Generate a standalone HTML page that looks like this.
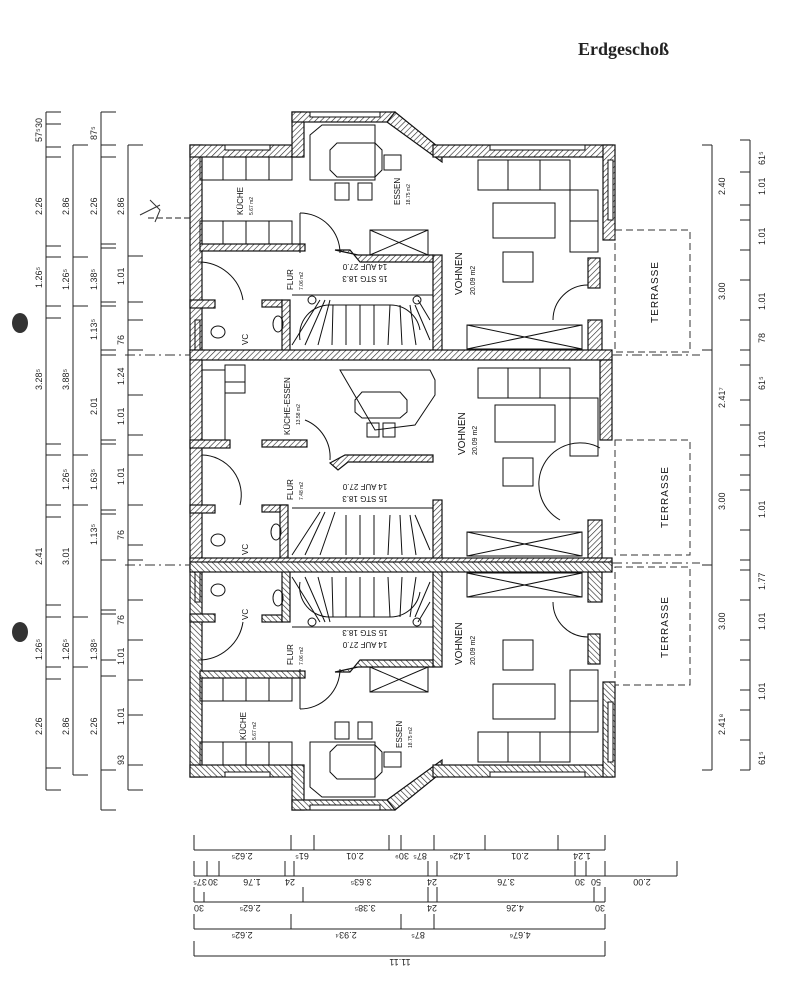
<!DOCTYPE html>
<html><head><meta charset="utf-8"><style>
html,body{margin:0;padding:0;background:#fff;}
svg{display:block;font-family:"Liberation Sans",sans-serif;}
</style></head><body>
<svg width="785" height="1000" viewBox="0 0 785 1000" xmlns="http://www.w3.org/2000/svg">
<defs>
<pattern id="h" width="4" height="4" patternUnits="userSpaceOnUse" patternTransform="rotate(45)">
<rect width="4" height="4" fill="#fff"/><line x1="0" y1="0" x2="0" y2="4" stroke="#222" stroke-width="1.2"/>
</pattern>
<g id="unit">
 <g fill="url(#h)" stroke="#111" stroke-width="1.2">
  <rect x="190" y="145" width="12" height="210"/>
  <rect x="190" y="145" width="110" height="12"/>
  <rect x="292" y="112" width="12" height="45"/>
  <rect x="292" y="112" width="103" height="10"/>
  <polygon points="395,112 442,150 442,162 387,122"/>
  <rect x="433" y="145" width="180" height="12"/>
  <rect x="603" y="145" width="12" height="95"/>
  <rect x="588" y="258" width="12" height="30"/>
  <rect x="588" y="320" width="14" height="35"/>
  <rect x="200" y="244" width="105" height="7"/>
  <rect x="190" y="300" width="25" height="8"/>
  <rect x="262" y="300" width="20" height="7"/>
  <rect x="282" y="300" width="8" height="55"/>
  <rect x="433" y="255" width="9" height="100"/>
  <polygon points="335,250 350,250 360,262 433,262 433,255 358,255"/>
  <rect x="190" y="350" width="422" height="10"/>
 </g>
 <g fill="#fff" stroke="#111" stroke-width="1">
  <rect x="225" y="145" width="45" height="5"/>
  <rect x="310" y="112" width="70" height="5"/>
  <rect x="490" y="145" width="95" height="5"/>
  <rect x="608" y="160" width="5" height="60"/>
 </g>
 <g fill="none" stroke="#111" stroke-width="1">
  <rect x="200" y="157" width="92" height="23"/>
  <line x1="223" y1="157" x2="223" y2="180"/><line x1="246" y1="157" x2="246" y2="180"/><line x1="269" y1="157" x2="269" y2="180"/>
  <rect x="200" y="221" width="92" height="23"/>
  <line x1="223" y1="221" x2="223" y2="244"/><line x1="246" y1="221" x2="246" y2="244"/><line x1="269" y1="221" x2="269" y2="244"/>
  <polygon points="310,135 322,125 375,125 375,180 320,180 310,180"/>
  <polygon points="330,150 337,143 375,143 382,150 382,170 375,177 337,177 330,170"/>
  <rect x="384" y="155" width="17" height="15"/>
  <rect x="335" y="183" width="14" height="17"/><rect x="358" y="183" width="14" height="17"/>
  <rect x="370" y="230" width="58" height="25"/><line x1="370" y1="230" x2="428" y2="255"/><line x1="370" y1="255" x2="428" y2="230"/>
  <rect x="478" y="160" width="92" height="30"/>
  <line x1="508" y1="160" x2="508" y2="190"/><line x1="540" y1="160" x2="540" y2="190"/>
  <rect x="570" y="190" width="28" height="62"/><line x1="570" y1="221" x2="598" y2="221"/>
  <rect x="493" y="203" width="62" height="35"/>
  <rect x="503" y="252" width="30" height="30"/>
  <rect x="467" y="325" width="115" height="24"/><line x1="467" y1="325" x2="582" y2="349"/><line x1="467" y1="349" x2="582" y2="325"/>
  <path d="M300,213 A40,40 0 0 1 340,253"/><line x1="300" y1="213" x2="300" y2="253"/>
  <path d="M198,262 A45,45 0 0 1 243,300"/>
  <path d="M588,285 A35,35 0 0 0 553,320"/>
  <line x1="292" y1="295" x2="433" y2="295"/>
  <path d="M292,345 L320,300 M305,345 L325,300 M318,345 L330,300 M332,345 L333,305 M346,345 L346,305 M360,345 L360,305 M374,345 L374,305 M388,345 L390,305 M402,345 L400,305 M416,345 L410,305 M430,340 L415,305 M430,320 L418,300"/>
  <path d="M300,340 A30,30 0 0 1 330,305 L390,305 A30,30 0 0 1 420,330"/>
  <circle cx="312" cy="300" r="4"/><circle cx="417" cy="300" r="4"/>
  <ellipse cx="218" cy="332" rx="7" ry="6"/><rect x="195" y="320" width="5" height="30"/>
  <ellipse cx="278" cy="324" rx="5" ry="8"/>
 </g>
</g>
<g id="mid">
 <g fill="url(#h)" stroke="#111" stroke-width="1.2">
  <rect x="190" y="360" width="12" height="200"/>
  <rect x="190" y="440" width="40" height="8"/>
  <rect x="262" y="440" width="45" height="7"/>
  <rect x="190" y="505" width="25" height="8"/>
  <rect x="262" y="505" width="25" height="7"/>
  <rect x="280" y="505" width="8" height="55"/>
  <rect x="433" y="500" width="9" height="60"/>
  <polygon points="330,463 345,455 433,455 433,462 348,462 338,470"/>
  <rect x="600" y="360" width="12" height="80"/>
  <rect x="588" y="520" width="14" height="40"/>
  <rect x="190" y="558" width="422" height="10"/>
 </g>
 <g fill="none" stroke="#111" stroke-width="1">
  <rect x="202" y="370" width="23" height="70"/>
  <rect x="225" y="365" width="20" height="28"/><line x1="225" y1="382" x2="245" y2="382"/>
  <polygon points="340,370 430,370 435,380 435,395 415,425 375,430"/>
  <polygon points="355,400 362,392 400,392 407,400 407,412 400,418 362,418 355,412"/>
  <rect x="367" y="423" width="12" height="14"/><rect x="383" y="423" width="12" height="14"/>
  <rect x="478" y="368" width="92" height="30"/>
  <line x1="508" y1="368" x2="508" y2="398"/><line x1="540" y1="368" x2="540" y2="398"/>
  <rect x="570" y="398" width="28" height="58"/>
  <rect x="495" y="405" width="60" height="37"/>
  <rect x="503" y="458" width="30" height="28"/>
  <path d="M305,420 A40,40 0 0 1 330,460"/>
  <path d="M202,455 A40,40 0 0 1 240,505"/>
  <path d="M600,448 A40,40 0 0 0 560,520"/>
  <line x1="292" y1="508" x2="433" y2="508"/>
  <path d="M292,555 L320,512 M305,555 L325,512 M320,555 L335,512 M346,555 L346,515 M360,555 L360,515 M374,555 L374,515 M388,555 L390,515 M402,555 L400,515 M416,555 L410,515 M430,550 L415,515"/>
  <rect x="467" y="532" width="115" height="24"/><line x1="467" y1="532" x2="582" y2="556"/><line x1="467" y1="556" x2="582" y2="532"/>
  <ellipse cx="218" cy="540" rx="7" ry="6"/><ellipse cx="276" cy="532" rx="5" ry="8"/>
 </g>
</g>
</defs>

<text x="578" y="55" font-family="Liberation Serif,serif" font-size="18" font-weight="bold" fill="#222">Erdgeschoß</text>

<use href="#unit"/>
<use href="#mid"/>
<use href="#unit" transform="translate(0,922) scale(1,-1)"/>

<g stroke="#333" stroke-width="1" stroke-dasharray="10,4,2,4">
 <line x1="125" y1="355" x2="190" y2="355"/><line x1="125" y1="565" x2="190" y2="565"/>
 <line x1="612" y1="355" x2="700" y2="355"/><line x1="612" y1="563" x2="700" y2="563"/>
</g>

<g fill="none" stroke="#333" stroke-width="1" stroke-dasharray="7,4">
 <rect x="615" y="230" width="75" height="122"/>
 <rect x="615" y="440" width="75" height="115"/>
 <rect x="615" y="567" width="75" height="118"/>
</g>
<g font-size="10" fill="#111" letter-spacing="1">
 <text transform="translate(658,292) rotate(-90)" text-anchor="middle">TERRASSE</text>
 <text transform="translate(668,497) rotate(-90)" text-anchor="middle">TERRASSE</text>
 <text transform="translate(668,627) rotate(-90)" text-anchor="middle">TERRASSE</text>
</g>

<g font-size="8" fill="#111">
 <text transform="translate(243,215) rotate(-90)">KÜCHE</text>
 <text transform="translate(253,215) rotate(-90)" font-size="5">5.67 m2</text>
 <text transform="translate(400,205) rotate(-90)">ESSEN</text>
 <text transform="translate(410,205) rotate(-90)" font-size="5">18.75 m2</text>
 <text transform="translate(293,290) rotate(-90)">FLUR</text>
 <text transform="translate(303,290) rotate(-90)" font-size="5">7.06 m2</text>
 <text transform="translate(248,345) rotate(-90)">VC</text>
 <text transform="translate(462,295) rotate(-90)" font-size="10">VOHNEN</text>
 <text transform="translate(475,295) rotate(-90)" font-size="7">20.09 m2</text>
 <text transform="translate(365,264) rotate(180)" text-anchor="middle">14 AUF 27.0</text>
 <text transform="translate(365,276) rotate(180)" text-anchor="middle">15 STG 18.3</text>

 <text transform="translate(290,435) rotate(-90)">KÜCHE-ESSEN</text>
 <text transform="translate(300,425) rotate(-90)" font-size="5">13.58 m2</text>
 <text transform="translate(293,500) rotate(-90)">FLUR</text>
 <text transform="translate(303,500) rotate(-90)" font-size="5">7.48 m2</text>
 <text transform="translate(248,555) rotate(-90)">VC</text>
 <text transform="translate(465,455) rotate(-90)" font-size="10">VOHNEN</text>
 <text transform="translate(477,455) rotate(-90)" font-size="7">20.09 m2</text>
 <text transform="translate(365,484) rotate(180)" text-anchor="middle">14 AUF 27.0</text>
 <text transform="translate(365,496) rotate(180)" text-anchor="middle">15 STG 18.3</text>

 <text transform="translate(248,620) rotate(-90)">VC</text>
 <text transform="translate(365,630) rotate(180)" text-anchor="middle">15 STG 18.3</text>
 <text transform="translate(365,642) rotate(180)" text-anchor="middle">14 AUF 27.0</text>
 <text transform="translate(293,665) rotate(-90)">FLUR</text>
 <text transform="translate(303,665) rotate(-90)" font-size="5">7.06 m2</text>
 <text transform="translate(462,665) rotate(-90)" font-size="10">VOHNEN</text>
 <text transform="translate(475,665) rotate(-90)" font-size="7">20.09 m2</text>
 <text transform="translate(246,740) rotate(-90)">KÜCHE</text>
 <text transform="translate(256,740) rotate(-90)" font-size="5">5.67 m2</text>
 <text transform="translate(402,748) rotate(-90)">ESSEN</text>
 <text transform="translate(412,748) rotate(-90)" font-size="5">18.75 m2</text>
</g>

<g stroke="#222" stroke-width="1">
 <line x1="46" y1="112" x2="46" y2="790"/>
 <line x1="73" y1="145" x2="73" y2="775"/>
 <line x1="101" y1="112" x2="101" y2="810"/>
 <line x1="128" y1="145" x2="128" y2="790"/>
 <line x1="148" y1="218" x2="190" y2="218" stroke-dasharray="6,3"/>
</g>
<g stroke="#222" stroke-width="1">
 <path d="M46,112h15M46,124h15M46,147h15M46,157h15M46,246h15M46,257h15M46,306h15M46,318h15M46,444h15M46,455h15M46,505h15M46,517h15M46,605h15M46,617h15M46,667h15M46,679h15M46,768h15M46,790h15"/>
 <path d="M73,145h15M73,257h15M73,306h15M73,455h15M73,505h15M73,617h15M73,667h15M73,775h15"/>
 <path d="M101,112h15M101,145h15M101,157h15M101,244h15M101,248h15M101,302h15M101,306h15M101,350h15M101,355h15M101,440h15M101,444h15M101,510h15M101,514h15M101,560h15M101,610h15M101,614h15M101,660h15M101,676h15M101,770h15M101,810h15"/>
 <path d="M128,145h15M128,256h15M128,302h15M128,320h15M128,350h15M128,395h15M128,435h15M128,455h15M128,505h15M128,545h15M128,560h15M128,600h15M128,640h15M128,680h15M128,715h15M128,765h15M128,790h15"/>
</g>
<g font-size="9" fill="#222">
 <text transform="translate(42,128) rotate(-90)">30</text>
 <text transform="translate(42,142) rotate(-90)">57⁵</text>
 <text transform="translate(42,215) rotate(-90)">2.26</text>
 <text transform="translate(42,288) rotate(-90)">1.26⁵</text>
 <text transform="translate(42,390) rotate(-90)">3.28⁵</text>
 <text transform="translate(42,565) rotate(-90)">2.41</text>
 <text transform="translate(42,660) rotate(-90)">1.26⁵</text>
 <text transform="translate(42,735) rotate(-90)">2.26</text>
 <text transform="translate(69,215) rotate(-90)">2.86</text>
 <text transform="translate(69,290) rotate(-90)">1.26⁵</text>
 <text transform="translate(69,390) rotate(-90)">3.88⁵</text>
 <text transform="translate(69,490) rotate(-90)">1.26⁵</text>
 <text transform="translate(69,565) rotate(-90)">3.01</text>
 <text transform="translate(69,660) rotate(-90)">1.26⁵</text>
 <text transform="translate(69,735) rotate(-90)">2.86</text>
 <text transform="translate(97,140) rotate(-90)">87⁵</text>
 <text transform="translate(97,215) rotate(-90)">2.26</text>
 <text transform="translate(97,290) rotate(-90)">1.38⁵</text>
 <text transform="translate(97,340) rotate(-90)">1.13⁵</text>
 <text transform="translate(97,415) rotate(-90)">2.01</text>
 <text transform="translate(97,490) rotate(-90)">1.63⁵</text>
 <text transform="translate(97,545) rotate(-90)">1.13⁵</text>
 <text transform="translate(97,660) rotate(-90)">1.38⁵</text>
 <text transform="translate(97,735) rotate(-90)">2.26</text>
 <text transform="translate(124,215) rotate(-90)">2.86</text>
 <text transform="translate(124,285) rotate(-90)">1.01</text>
 <text transform="translate(124,345) rotate(-90)">76</text>
 <text transform="translate(124,385) rotate(-90)">1.24</text>
 <text transform="translate(124,425) rotate(-90)">1.01</text>
 <text transform="translate(124,485) rotate(-90)">1.01</text>
 <text transform="translate(124,540) rotate(-90)">76</text>
 <text transform="translate(124,625) rotate(-90)">76</text>
 <text transform="translate(124,665) rotate(-90)">1.01</text>
 <text transform="translate(124,725) rotate(-90)">1.01</text>
 <text transform="translate(124,765) rotate(-90)">93</text>
</g>
<ellipse cx="20" cy="323" rx="8" ry="10" fill="#333"/>
<ellipse cx="20" cy="632" rx="8" ry="10" fill="#333"/>
<path d="M140,215 Q150,210 160,205 M150,200 L160,210 L155,222" fill="none" stroke="#333" stroke-width="1"/>

<g stroke="#222" stroke-width="1">
 <line x1="712" y1="145" x2="712" y2="770"/>
 <line x1="750" y1="140" x2="750" y2="770"/>
 <path d="M712,145h-10M712,350h-10M712,565h-10M712,770h-10M750,140h-10M750,172h-10M750,205h-10M750,220h-10M750,250h-10M750,280h-10M750,320h-10M750,350h-10M750,365h-10M750,400h-10M750,425h-10M750,455h-10M750,475h-10M750,490h-10M750,530h-10M750,560h-10M750,570h-10M750,600h-10M750,640h-10M750,660h-10M750,690h-10M750,710h-10M750,740h-10M750,770h-10"/>
</g>
<g font-size="9" fill="#222">
 <text transform="translate(725,195) rotate(-90)">2.40</text>
 <text transform="translate(725,300) rotate(-90)">3.00</text>
 <text transform="translate(725,408) rotate(-90)">2.41⁷</text>
 <text transform="translate(725,510) rotate(-90)">3.00</text>
 <text transform="translate(725,630) rotate(-90)">3.00</text>
 <text transform="translate(725,735) rotate(-90)">2.41⁸</text>
 <text transform="translate(765,165) rotate(-90)">61⁵</text>
 <text transform="translate(765,195) rotate(-90)">1.01</text>
 <text transform="translate(765,245) rotate(-90)">1.01</text>
 <text transform="translate(765,310) rotate(-90)">1.01</text>
 <text transform="translate(765,343) rotate(-90)">78</text>
 <text transform="translate(765,390) rotate(-90)">61⁵</text>
 <text transform="translate(765,448) rotate(-90)">1.01</text>
 <text transform="translate(765,518) rotate(-90)">1.01</text>
 <text transform="translate(765,590) rotate(-90)">1.77</text>
 <text transform="translate(765,630) rotate(-90)">1.01</text>
 <text transform="translate(765,700) rotate(-90)">1.01</text>
 <text transform="translate(765,765) rotate(-90)">61⁵</text>
</g>

<g stroke="#222" stroke-width="1">
 <line x1="194" y1="850" x2="605" y2="850"/>
 <line x1="194" y1="876" x2="677" y2="876"/>
 <line x1="194" y1="902" x2="605" y2="902"/>
 <line x1="194" y1="929" x2="605" y2="929"/>
 <line x1="194" y1="956" x2="605" y2="956"/>
 <path d="M194,850v-15M291,850v-15M314,850v-15M389,850v-15M401,850v-15M434,850v-15M485,850v-15M558,850v-15M605,850v-15"/>
 <path d="M194,876v-15M207,876v-15M219,876v-15M285,876v-15M294,876v-15M428,876v-15M437,876v-15M575,876v-15M586,876v-15M605,876v-15M677,876v-15"/>
 <path d="M194,902v-15M204,902v-10M303,902v-15M428,902v-15M437,902v-15M594,902v-15M605,902v-15"/>
 <path d="M194,929v-15M291,929v-15M401,929v-15M434,929v-15M605,929v-15"/>
 <path d="M194,956v-15M605,956v-15"/>
</g>
<g font-size="9" fill="#222" text-anchor="middle">
 <text transform="translate(242,853) rotate(180)">2.62⁵</text>
 <text transform="translate(302,853) rotate(180)">61⁵</text>
 <text transform="translate(355,853) rotate(180)">2.01</text>
 <text transform="translate(402,853) rotate(180)">30⁹</text>
 <text transform="translate(420,853) rotate(180)">87⁵</text>
 <text transform="translate(460,853) rotate(180)">1.42⁶</text>
 <text transform="translate(520,853) rotate(180)">2.01</text>
 <text transform="translate(582,853) rotate(180)">1.24</text>
 <text transform="translate(200,879) rotate(180)">37⁵</text>
 <text transform="translate(213,879) rotate(180)">30</text>
 <text transform="translate(252,879) rotate(180)">1.76</text>
 <text transform="translate(290,879) rotate(180)">24</text>
 <text transform="translate(361,879) rotate(180)">3.63⁵</text>
 <text transform="translate(432,879) rotate(180)">24</text>
 <text transform="translate(506,879) rotate(180)">3.76</text>
 <text transform="translate(580,879) rotate(180)">30</text>
 <text transform="translate(596,879) rotate(180)">50</text>
 <text transform="translate(642,879) rotate(180)">2.00</text>
 <text transform="translate(199,905) rotate(180)">30</text>
 <text transform="translate(250,905) rotate(180)">2.62⁵</text>
 <text transform="translate(365,905) rotate(180)">3.38⁵</text>
 <text transform="translate(432,905) rotate(180)">24</text>
 <text transform="translate(515,905) rotate(180)">4.26</text>
 <text transform="translate(600,905) rotate(180)">30</text>
 <text transform="translate(242,932) rotate(180)">2.62⁵</text>
 <text transform="translate(346,932) rotate(180)">2.93⁴</text>
 <text transform="translate(418,932) rotate(180)">87⁵</text>
 <text transform="translate(520,932) rotate(180)">4.67⁶</text>
 <text transform="translate(400,959) rotate(180)">11.11</text>
</g>
</svg>
</body></html>
